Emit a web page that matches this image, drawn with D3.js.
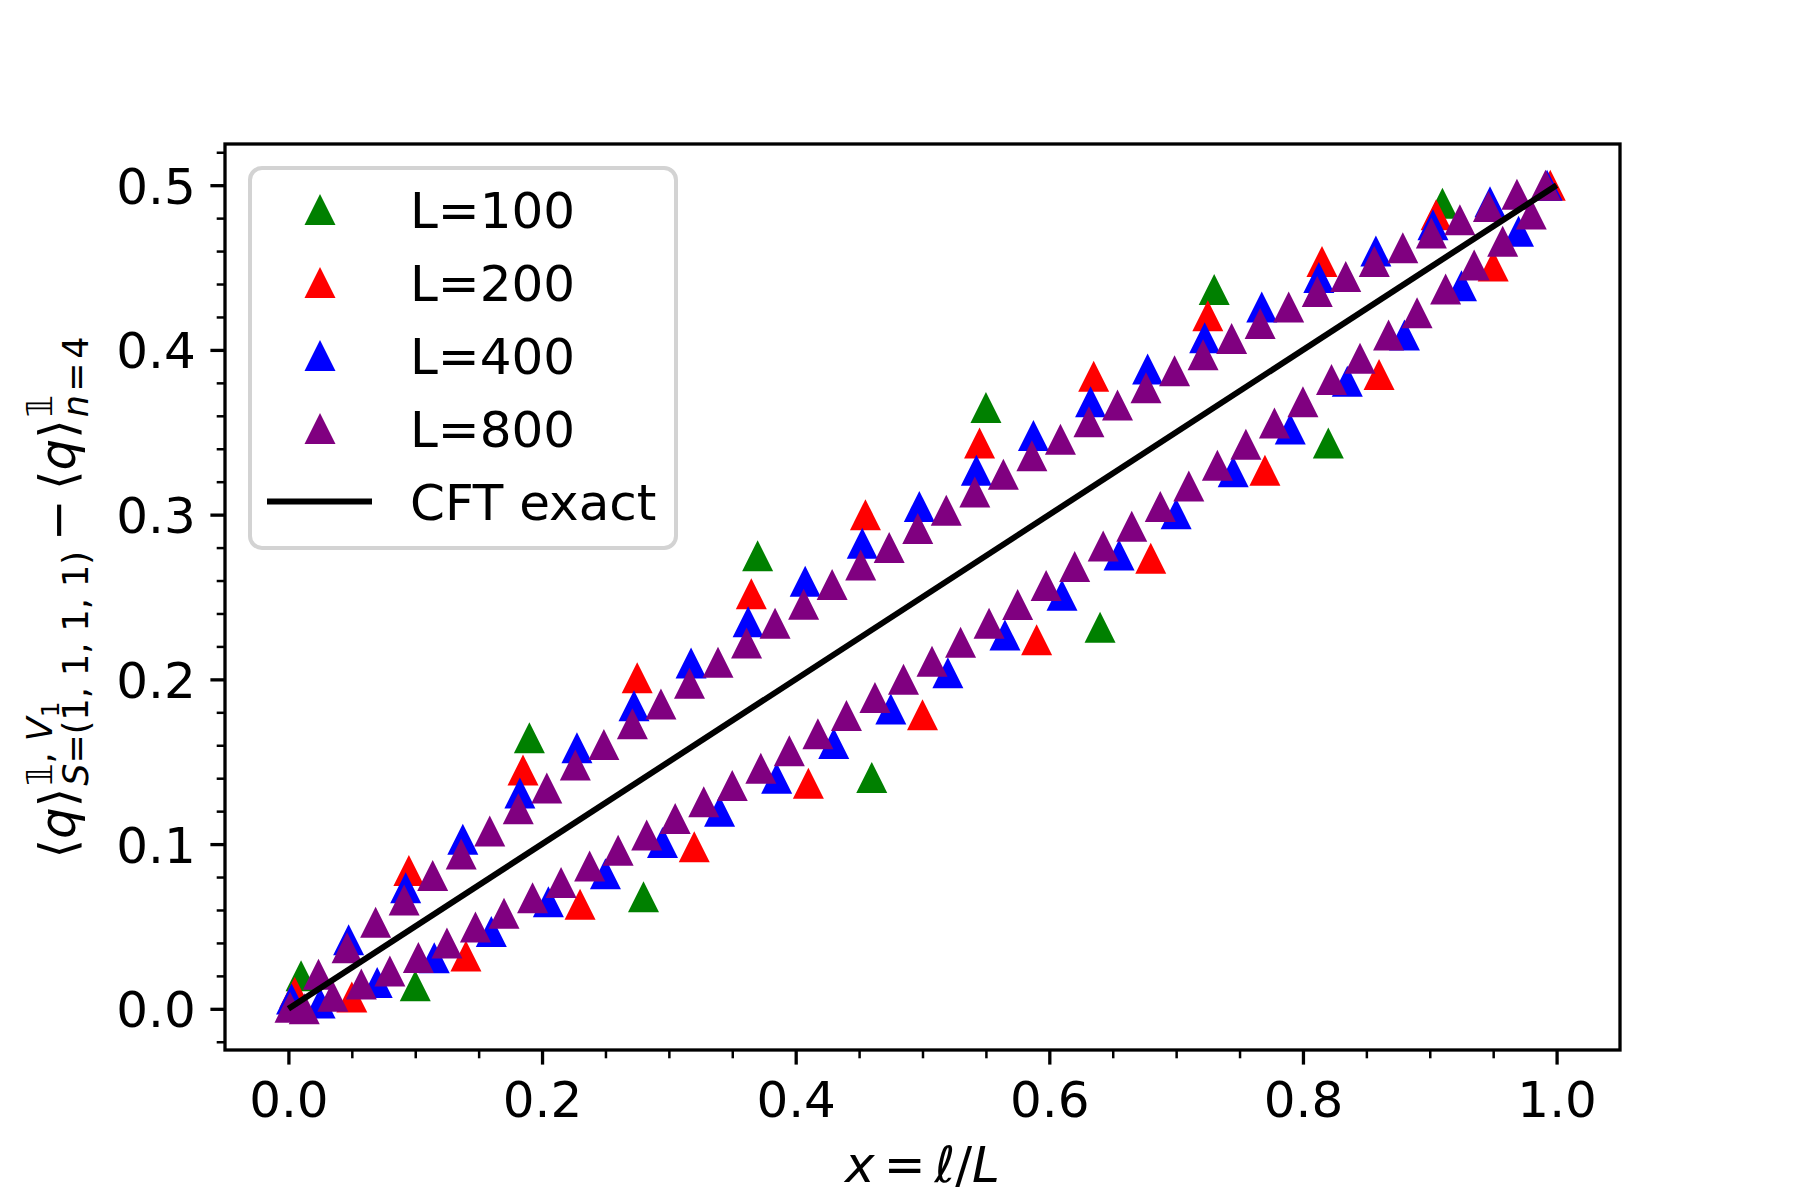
<!DOCTYPE html>
<html><head><meta charset="utf-8">
<script src="https://cdn.jsdelivr.net/npm/d3@7"></script>
<style>
body{margin:0;background:#fff}
svg{display:block}
text{font-family:"DejaVu Sans",sans-serif;white-space:pre}
</style>
</head><body>
<svg id="chart" width="1800" height="1200"></svg>
<script>
// ---------------- data ----------------
const seriesNames = ["L=100", "L=200", "L=400", "L=800"];
const seriesColors = ["#008000", "#ff0000", "#0000ff", "#800080"];

const xL100 = [0.01, 0.10, 0.19, 0.28, 0.37, 0.46, 0.55, 0.64, 0.73, 0.82, 0.91];
const yL100 = [0.020, 0.014, 0.1645, 0.068, 0.275, 0.1405, 0.365, 0.2316, 0.4367, 0.3435, 0.489];

const xL200 = [0.005, 0.05, 0.095, 0.14, 0.185, 0.23, 0.275, 0.32, 0.365, 0.41, 0.455, 0.5,
               0.545, 0.59, 0.635, 0.68, 0.725, 0.77, 0.815, 0.86, 0.905, 0.95, 0.995];
const yL200 = [0.010, 0.0072, 0.084, 0.032, 0.145, 0.0635, 0.201, 0.0984, 0.252, 0.137, 0.300, 0.1785,
               0.3435, 0.224, 0.384, 0.2735, 0.4207, 0.327, 0.4537, 0.385, 0.482, 0.451, 0.500];

const xL400 = [0.0025, 0.025, 0.0475, 0.07, 0.0925, 0.115, 0.1375, 0.16, 0.1825, 0.205, 0.2275, 0.25,
               0.2725, 0.295, 0.3175, 0.34, 0.3625, 0.385, 0.4075, 0.43, 0.4525, 0.475, 0.4975, 0.52,
               0.5425, 0.565, 0.5875, 0.61, 0.6325, 0.655, 0.6775, 0.70, 0.7225, 0.745, 0.7675, 0.79,
               0.8125, 0.835, 0.8575, 0.88, 0.9025, 0.925, 0.9475, 0.97, 0.9925];
const yL400 = [0.006, 0.0035, 0.042, 0.016, 0.0735, 0.031, 0.103, 0.047, 0.131, 0.065, 0.1585, 0.082,
               0.184, 0.101, 0.210, 0.120, 0.235, 0.140, 0.2596, 0.161, 0.2826, 0.182, 0.305, 0.204,
               0.327, 0.227, 0.348, 0.251, 0.3685, 0.2755, 0.3884, 0.3006, 0.4074, 0.326, 0.426, 0.352,
               0.444, 0.381, 0.460, 0.409, 0.476, 0.439, 0.490, 0.472, 0.500];

const xL800 = [0.00125, 0.0125, 0.02375, 0.035, 0.04625, 0.0575, 0.06875, 0.08, 0.09125, 0.1025,
               0.11375, 0.125, 0.13625, 0.1475, 0.15875, 0.17, 0.18125, 0.1925, 0.20375, 0.215,
               0.22625, 0.2375, 0.24875, 0.26, 0.27125, 0.2825, 0.29375, 0.305, 0.31625, 0.3275,
               0.33875, 0.35, 0.36125, 0.3725, 0.38375, 0.395, 0.40625, 0.4175, 0.42875, 0.44,
               0.45125, 0.4625, 0.47375, 0.485, 0.49625, 0.5075, 0.51875, 0.53, 0.54125, 0.5525,
               0.56375, 0.575, 0.58625, 0.5975, 0.60875, 0.62, 0.63125, 0.6425, 0.65375, 0.665,
               0.67625, 0.6875, 0.69875, 0.71, 0.72125, 0.7325, 0.74375, 0.755, 0.76625, 0.7775,
               0.78875, 0.8, 0.81125, 0.8225, 0.83375, 0.845, 0.85625, 0.8675, 0.87875, 0.89,
               0.90125, 0.9125, 0.92375, 0.935, 0.94625, 0.9575, 0.96875, 0.98, 0.99125];
const yL800 = [0.001, 0.000, 0.021, 0.0076, 0.037, 0.015, 0.0525, 0.023, 0.066, 0.0312,
               0.081, 0.040, 0.094, 0.0496, 0.108, 0.058, 0.1215, 0.0675, 0.134, 0.0767,
               0.148, 0.0867, 0.1605, 0.0963, 0.173, 0.1055, 0.185, 0.1156, 0.1976, 0.1257,
               0.2104, 0.1355, 0.222, 0.146, 0.234, 0.1567, 0.2456, 0.167, 0.2576, 0.178,
               0.2695, 0.189, 0.280, 0.200, 0.2916, 0.211, 0.3027, 0.2225, 0.3138, 0.234,
               0.3245, 0.2454, 0.3357, 0.257, 0.3458, 0.2685, 0.3564, 0.281, 0.3665, 0.293,
               0.377, 0.305, 0.3873, 0.3174, 0.397, 0.330, 0.407, 0.3428, 0.416, 0.3556,
               0.426, 0.3685, 0.4355, 0.382, 0.4445, 0.395, 0.4537, 0.409, 0.462, 0.4225,
               0.471, 0.437, 0.479, 0.4516, 0.487, 0.466, 0.4945, 0.4825, 0.500];

const cftX = [0, 1];
const cftY = [0, 0.5];
const cftName = "CFT exact";

const xMajorTicks = [0, 0.2, 0.4, 0.6, 0.8, 1.0];
const xMinorTicks = [0.05, 0.1, 0.15, 0.25, 0.3, 0.35, 0.45, 0.5, 0.55, 0.65, 0.7, 0.75, 0.85, 0.9, 0.95];
const yMajorTicks = [0, 0.1, 0.2, 0.3, 0.4, 0.5];
const yMinorTicks = [-0.02, 0.02, 0.04, 0.06, 0.08, 0.12, 0.14, 0.16, 0.18, 0.22, 0.24, 0.26, 0.28,
                     0.32, 0.34, 0.36, 0.38, 0.42, 0.44, 0.46, 0.48, 0.52];

// ---------------- layout ----------------
const M = {left: 225, right: 1620, top: 144, bottom: 1050};
const FS = 50;
const svg = d3.select("#chart");
const x = d3.scaleLinear().domain([-0.05, 1.05]).range([M.left, M.right]);
const y = d3.scaleLinear().domain([-0.025, 0.525]).range([M.bottom, M.top]);

const seriesX = [xL100, xL200, xL400, xL800];
const seriesY = [yL100, yL200, yL400, yL800];
const series = seriesNames.map((name, i) => ({
  name, color: seriesColors[i],
  points: seriesX[i].map((xv, j) => ({x: xv, y: seriesY[i][j]}))
}));

const TRI = 15.5;
const triPath = `M0,${-TRI}L${TRI},${TRI}L${-TRI},${TRI}Z`;

// points
const gPts = svg.append("g");
series.forEach(s => {
  gPts.append("g").selectAll("path").data(s.points).join("path")
    .attr("d", triPath)
    .attr("transform", d => `translate(${x(d.x)},${y(d.y)})`)
    .attr("fill", s.color);
});

// CFT line
const cft = cftX.map((xv, i) => ({x: xv, y: cftY[i]}));
svg.append("path").datum(cft)
  .attr("d", d3.line().x(d => x(d.x)).y(d => y(d.y)))
  .attr("fill", "none").attr("stroke", "#000").attr("stroke-width", 6);

// axes
function styleAxis(g, w) {
  g.select(".domain").remove();
  g.selectAll(".tick line").attr("stroke", "#000").attr("stroke-width", w);
  g.selectAll(".tick text").attr("font-size", FS).attr("fill", "#000")
    .attr("font-family", "DejaVu Sans");
}
svg.append("g").attr("transform", `translate(0,${M.bottom})`)
  .call(d3.axisBottom(x).tickValues(xMinorTicks).tickSize(8.3).tickFormat(""))
  .call(g => styleAxis(g, 2.5));
svg.append("g").attr("transform", `translate(0,${M.bottom})`)
  .call(d3.axisBottom(x).tickValues(xMajorTicks).tickSize(14.6).tickPadding(17).tickFormat(d3.format(".1f")))
  .call(g => styleAxis(g, 3.3));
svg.append("g").attr("transform", `translate(${M.left},0)`)
  .call(d3.axisLeft(y).tickValues(yMinorTicks).tickSize(8.3).tickFormat(""))
  .call(g => styleAxis(g, 2.5));
svg.append("g").attr("transform", `translate(${M.left},0)`)
  .call(d3.axisLeft(y).tickValues(yMajorTicks).tickSize(14.6).tickPadding(14.6).tickFormat(d3.format(".1f")))
  .call(g => { styleAxis(g, 3.3); g.selectAll(".tick text").attr("dy", "0.36em"); });

// frame
svg.append("rect").attr("x", M.left).attr("y", M.top)
  .attr("width", M.right - M.left).attr("height", M.bottom - M.top)
  .attr("fill", "none").attr("stroke", "#000").attr("stroke-width", 3.3);

// x label
const xl = svg.append("text").attr("x", (M.left + M.right) / 2).attr("y", 1182)
  .attr("text-anchor", "middle").attr("font-size", FS);
xl.append("tspan").attr("font-style", "italic").text("x");
xl.append("tspan").attr("dx", 9).text("=");
xl.append("tspan").attr("dx", 9).attr("font-style", "italic").text("ℓ");
xl.append("tspan").text("/");
xl.append("tspan").attr("font-style", "italic").text("L");

// y label (mathtext-like layout)
const ylabelParts = [
  {text: "⟨", size: 50}, {text: "q", size: 50, italic: true}, {text: "⟩", size: 50},
  {sup: [{text: "𝟙, ", size: 35}, {text: "V", size: 35, italic: true}, {text: "1", size: 25, shift: 7}],
   sub: [{text: "S", size: 35, italic: true}, {text: "=(1, 1, 1, 1)", size: 35}]},
  {gap: 9}, {text: "−", size: 50}, {gap: 9},
  {text: "⟨", size: 50}, {text: "q", size: 50, italic: true}, {text: "⟩", size: 50},
  {sup: [{text: "𝟙", size: 35}],
   sub: [{text: "n", size: 35, italic: true}, {text: "\u200A=\u200A4", size: 35}]}
];
const yg = svg.append("g").attr("transform", `translate(75,${(M.top + M.bottom) / 2}) rotate(-90)`);
const yin = yg.append("g");
function placeRun(items, x0, base) {
  let cx = x0;
  items.forEach(it => {
    const t = yin.append("text").attr("x", cx).attr("y", base + (it.shift || 0))
      .attr("font-size", it.size).attr("xml:space", "preserve")
      .attr("font-style", it.italic ? "italic" : "normal").text(it.text);
    cx += t.node().getComputedTextLength();
  });
  return cx - x0;
}
let cxY = 0;
ylabelParts.forEach(p => {
  if (p.gap) {
    cxY += p.gap;
  } else if (p.sup) {
    const w1 = placeRun(p.sup, cxY + 2, -23);
    const w2 = placeRun(p.sub, cxY + 2, 13);
    cxY += Math.max(w1, w2) + 3;
  } else {
    cxY += placeRun([p], cxY, 0);
  }
});
yin.attr("transform", `translate(${-cxY / 2},0)`);

// legend
const LG = {x: 250, y: 168, w: 426, h: 380};
const lg = svg.append("g");
lg.append("rect").attr("x", LG.x).attr("y", LG.y).attr("width", LG.w).attr("height", LG.h)
  .attr("rx", 12).attr("fill", "#fff").attr("fill-opacity", 0.8)
  .attr("stroke", "#d3d3d3").attr("stroke-width", 4);
const rowY = [209.5, 282.5, 355.5, 428.5, 501.5];
series.forEach((s, i) => {
  lg.append("path").attr("d", triPath).attr("transform", `translate(320,${rowY[i]})`).attr("fill", s.color);
  lg.append("text").attr("x", 410).attr("y", rowY[i] + 18).attr("font-size", FS).text(s.name);
});
lg.append("line").attr("x1", 267).attr("x2", 372).attr("y1", rowY[4]).attr("y2", rowY[4])
  .attr("stroke", "#000").attr("stroke-width", 6);
lg.append("text").attr("x", 410).attr("y", rowY[4] + 18).attr("font-size", FS).text(cftName);
</script>
</body></html>
